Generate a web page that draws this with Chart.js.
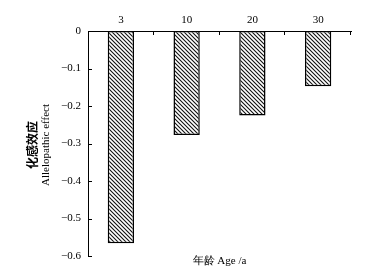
<!DOCTYPE html>
<html>
<head>
<meta charset="utf-8">
<script src="https://cdn.jsdelivr.net/npm/chart.js@4/dist/chart.umd.min.js"></script>
<style>
    body { margin: 0; background: #fff; }
    #box { width: 366px; height: 278px; }
</style>
</head>
<body>
<div id="box"><canvas id="myChart"></canvas></div>
<script>
let ages = ['3', '10', '20', '30'];
let effects = [-0.566, -0.277, -0.225, -0.147];
let yTicks = [0, -0.1, -0.2, -0.3, -0.4, -0.5, -0.6];
let yTitleCn = '化感效应';
let yTitleEn = 'Allelopathic effect';
let xTitle = '年龄 Age /a';

let serif = '"Liberation Serif", "Times New Roman", serif';


function makeHatch() {
    let size = 4;
    let c = document.createElement('canvas');
    c.width = size;
    c.height = size;
    let g = c.getContext('2d');
    g.fillStyle = '#fff';
    g.fillRect(0, 0, size, size);
    g.strokeStyle = '#111';
    g.lineWidth = 1.1;
    g.beginPath();
    g.moveTo(-1, -1); g.lineTo(size + 1, size + 1);
    g.moveTo(-1, size - 1); g.lineTo(1, size + 1);
    g.moveTo(size - 1, -1); g.lineTo(size + 1, 1);
    g.stroke();
    return g.createPattern(c, 'repeat');
}


function formatTick(v) {
    if (Math.abs(v) < 1e-9) return '0';
    return '\u2212' + Math.abs(v).toFixed(1);
}


let extras = {
    id: 'extras',
    afterDraw(chart) {
        let ctx = chart.ctx;
        let area = chart.chartArea;
        let y = chart.scales.y;
        ctx.save();
        ctx.strokeStyle = '#000';
        ctx.lineWidth = 1;
        // inward ticks on the left axis
        yTicks.forEach(v => {
            let py = Math.round(y.getPixelForValue(v)) + 0.5;
            ctx.beginPath();
            ctx.moveTo(area.left, py);
            ctx.lineTo(area.left + 4, py);
            ctx.stroke();
        });
        // downward ticks on the top axis between categories
        let step = (area.right - area.left) / ages.length;
        for (let i = 1; i <= ages.length; i++) {
            let px = Math.round(area.left + step * i) - 0.5;
            ctx.beginPath();
            ctx.moveTo(px, area.top);
            ctx.lineTo(px, area.top + 4);
            ctx.stroke();
        }
        // axis titles
        ctx.fillStyle = '#000';
        ctx.textAlign = 'center';
        ctx.textBaseline = 'middle';
        ctx.font = '11px ' + serif;
        ctx.fillText(xTitle, (area.left + area.right) / 2, 261);
        ctx.translate(32, 145);
        ctx.rotate(-Math.PI / 2);
        ctx.font = 'bold 12px "Noto Sans CJK SC", sans-serif';
        ctx.fillText(yTitleCn, 0, 0);
        ctx.font = '11px ' + serif;
        ctx.fillText(yTitleEn, 0, 14);
        ctx.restore();
    }
};


function showChart() {
    let ctx = document.getElementById('myChart').getContext('2d');
    new Chart(ctx, {
        type: 'bar',
        data: {
            labels: ages,
            datasets: [{
                data: effects,
                backgroundColor: makeHatch(),
                borderColor: '#000',
                borderWidth: 1.5,
                borderSkipped: false,
                categoryPercentage: 1,
                barPercentage: 0.4
            }]
        },
        options: {
            responsive: true,
            maintainAspectRatio: false,
            animation: false,
            layout: { padding: { top: 0, right: 15, bottom: 22, left: 0 } },
            plugins: { legend: { display: false }, tooltip: { enabled: false } },
            scales: {
                x: {
                    position: 'top',
                    grid: { display: false, drawTicks: false },
                    border: { display: true, color: '#000', width: 1 },
                    ticks: { color: '#000', padding: 4, font: { family: serif, size: 11 } },
                    afterFit(scale) { scale.height = 31; }
                },
                y: {
                    min: -0.6,
                    max: 0,
                    afterBuildTicks(scale) { scale.ticks = yTicks.map(v => ({ value: v })); },
                    grid: { display: false, drawTicks: false },
                    border: { display: true, color: '#000', width: 1 },
                    ticks: {
                        color: '#000',
                        padding: 7,
                        font: { family: serif, size: 11 },
                        callback: v => formatTick(v)
                    },
                    afterFit(scale) { scale.width = 88; }
                }
            }
        },
        plugins: [extras]
    });
}

showChart();
</script>
</body>
</html>
